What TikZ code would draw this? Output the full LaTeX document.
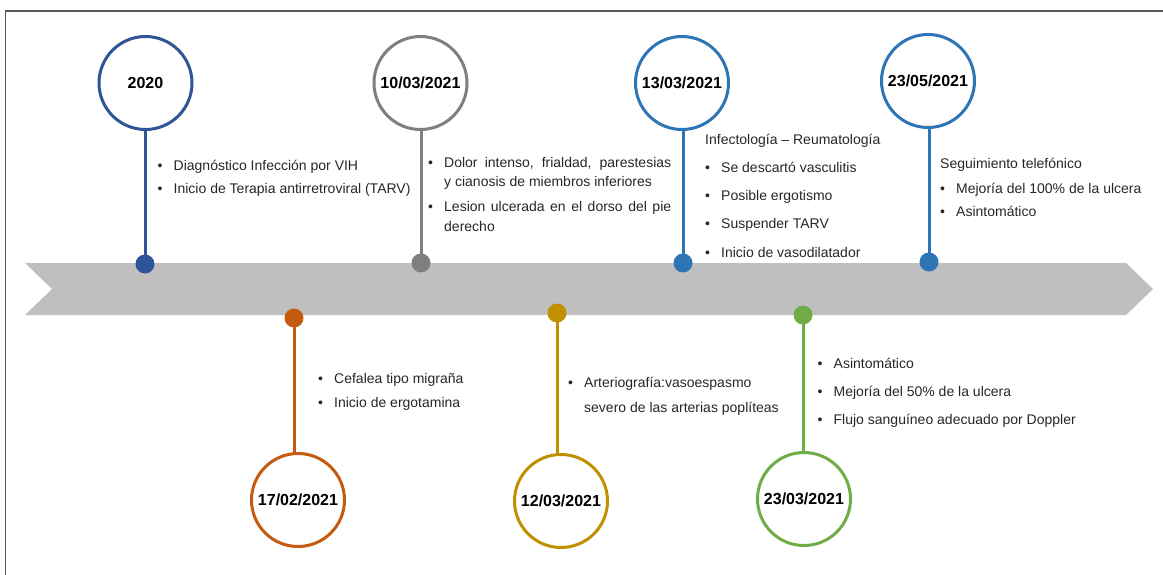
\documentclass[tikz,border=0pt]{standalone}
\usepackage{fontspec}
\setmainfont{Liberation Sans}
\definecolor{cBlueD}{HTML}{2F5597}
\definecolor{cGray}{HTML}{7F7F7F}
\definecolor{cBlue}{HTML}{2E75B6}
\definecolor{cOrange}{HTML}{C55A11}
\definecolor{cGold}{HTML}{BF9000}
\definecolor{cGreen}{HTML}{70AD47}
\definecolor{cBand}{HTML}{BFBFBF}
\definecolor{cFrame}{HTML}{595959}
\definecolor{cText}{HTML}{262626}
\newcommand\tlbul{\makebox[16pt][l]{\textbullet}}
\begin{document}
\begin{tikzpicture}[x=1pt,y=-1pt,
  datecircle/.style={circle, draw=#1, line width=3pt, fill=white, minimum size=93pt, inner sep=0pt,
    font=\fontsize{16}{16}\selectfont\bfseries, text=black},
  dotnode/.style={circle, fill=#1, minimum size=19pt, inner sep=0pt},
  stem/.style={draw=#1, line width=3pt},
  textblock/.style={anchor=base west, inner sep=0pt, align=left, text=cText,
    font=\fontsize{14}{#1}\selectfont},
]
\useasboundingbox (0,0) rectangle (1163,575);
% frame
\draw[cFrame, line width=1.5pt] (5.5,575) -- (5.5,11) -- (1163,11);
% band
\fill[cBand] (25,263) -- (1126,263) -- (1153,289) -- (1126,315) -- (25,315) -- (52,289) -- cycle;

% circles
\node[datecircle=cBlueD] (c1) at (145.5,83) {2020};
\node[datecircle=cGray] (c2) at (420.5,83) {10/03/2021};
\node[datecircle=cBlue] (c3) at (682,83) {13/03/2021};
\node[datecircle=cBlue] (c4) at (928,81) {23/05/2021};
\node[datecircle=cOrange] (c5) at (298,500) {17/02/2021};
\node[datecircle=cGold] (c6) at (561,501) {12/03/2021};
\node[datecircle=cGreen] (c7) at (804,499) {23/03/2021};

% dots
\node[dotnode=cBlueD] (d1) at (145,264) {};
\node[dotnode=cGray] (d2) at (421,263) {};
\node[dotnode=cBlue] (d3) at (683,263) {};
\node[dotnode=cBlue] (d4) at (929,262) {};
\node[dotnode=cOrange] (d5) at (294,318) {};
\node[dotnode=cGold] (d6) at (557,313) {};
\node[dotnode=cGreen] (d7) at (803,315) {};

% stems
\draw[stem=cBlueD] (d1.center) -- (d1 |- c1.south);
\draw[stem=cGray] (d2.center) -- (d2 |- c2.south);
\draw[stem=cBlue] (d3.center) -- (d3 |- c3.south);
\draw[stem=cBlue] (d4.center) -- (d4 |- c4.south);
\draw[stem=cOrange] (d5.center) -- (d5 |- c5.north);
\draw[stem=cGold] (d6.center) -- (d6 |- c6.north);
\draw[stem=cGreen] (d7.center) -- (d7 |- c7.north);

% texts (anchor = baseline of the last line)
\node[textblock=24] (t1) at (157.5,194) {\tlbul Diagnóstico Infección por VIH\\
  \tlbul Inicio de Terapia antirretroviral (TARV)};
\node[textblock=20] (t2) at (428,231.4) {\tlbul\makebox[227pt][s]{Dolor intenso, frialdad, parestesias}\\
  \hspace*{16pt}y cianosis de miembros inferiores\\[4.4pt]
  \tlbul\makebox[227pt][s]{Lesion ulcerada en el dorso del pie}\\
  \hspace*{16pt}derecho};
\node[textblock=28.3] (t3) at (705,257.2) {Infectología – Reumatología\\
  \tlbul Se descartó vasculitis\\
  \tlbul Posible ergotismo\\
  \tlbul Suspender TARV\\
  \tlbul Inicio de vasodilatador};
\node[textblock=24] (t4) at (940,217) {Seguimiento telefónico\\
  \tlbul Mejoría del 100\% de la ulcera\\
  \tlbul Asintomático};
\node[textblock=24] (t5) at (318,407) {\tlbul Cefalea tipo migraña\\
  \tlbul Inicio de ergotamina};
\node[textblock=25] (t6) at (568,412) {\tlbul Arteriografía:vasoespasmo\\
  \hspace*{16pt}severo de las arterias poplíteas};
\node[textblock=28] (t7) at (817.5,424) {\tlbul Asintomático\\
  \tlbul Mejoría del 50\% de la ulcera\\
  \tlbul Flujo sanguíneo adecuado por Doppler};
\end{tikzpicture}
\end{document}
